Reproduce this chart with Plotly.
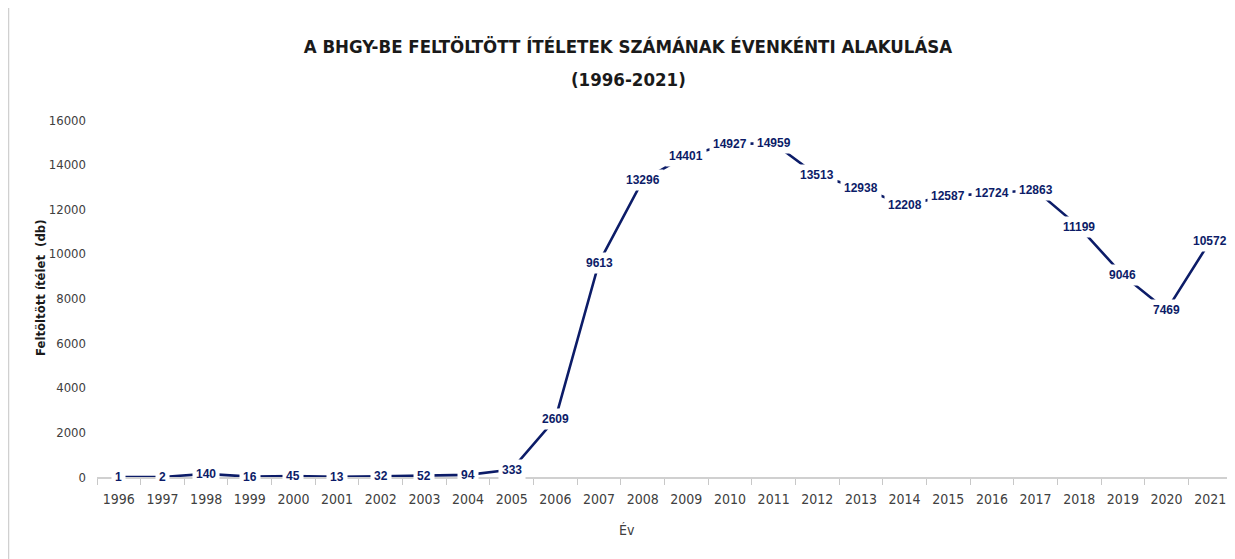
import plotly.graph_objects as go

years = [str(y) for y in range(1996, 2022)]
values = [1, 2, 140, 16, 45, 13, 32, 52, 94, 333, 2609, 9613, 13296, 14401,
          14927, 14959, 13513, 12938, 12208, 12587, 12724, 12863, 11199,
          9046, 7469, 10572]
y_ticks = [0, 2000, 4000, 6000, 8000, 10000, 12000, 14000, 16000]

title_line1 = "A BHGY-BE FELTÖLTÖTT ÍTÉLETEK SZÁMÁNAK ÉVENKÉNTI ALAKULÁSA"
title_line2 = "(1996-2021)"
x_title = "Év"
y_title = "Feltöltött ítélet \u00a0(db)"

NAVY = "#0c1c68"
FONT = "DejaVu Sans Condensed, DejaVu Sans, sans-serif"
LABEL_FONT = "Liberation Sans, Arial, sans-serif"

W, H = 1227, 551
L, R, T, B = 89, 3, 112, 82
PW, PH = W - L - R, H - T - B

fig = go.Figure()
fig.add_trace(go.Scatter(
    x=years, y=values, mode="lines",
    line=dict(color=NAVY, width=2.6),
    hoverinfo="x+y", showlegend=False,
))

for i, v in enumerate(values):
    fig.add_annotation(
        x=i, y=v, xref="x", yref="y", text=f"<b>{v}</b>", showarrow=False,
        font=dict(family=LABEL_FONT, size=12, color=NAVY),
        bgcolor="white", borderpad=3,
    )

# second title line
fig.add_annotation(
    x=(620 - L) / PW, y=1 + (T - 72) / PH, xref="paper", yref="paper",
    text=f"<b>{title_line2}</b>", showarrow=False, yanchor="middle",
    font=dict(family=FONT, size=18.5, color="#1a1a1a"),
)

# x axis title
fig.add_annotation(
    x=(619 - L) / PW, y=(H - B - 522) / PH, xref="paper", yref="paper",
    text=x_title, showarrow=False, yanchor="middle",
    font=dict(family=FONT, size=14, color="#404040"),
)

# y axis title
fig.add_annotation(
    x=(32 - L) / PW, y=(H - B - 280) / PH, xref="paper", yref="paper",
    text=f"<b>{y_title}</b>", showarrow=False, textangle=-90,
    xanchor="center", yanchor="middle",
    font=dict(family=FONT, size=13, color="#1a1a1a"),
)

fig.add_shape(type="line", xref="paper", yref="paper",
              x0=(0.5 - L) / PW, x1=(0.5 - L) / PW, y0=-0.5, y1=1.5,
              line=dict(color="#d0d0d0", width=1.5))

fig.update_layout(
    width=W, height=H,
    margin=dict(l=L, r=R, t=T, b=B),
    paper_bgcolor="white", plot_bgcolor="white",
    title=dict(text=f"<b>{title_line1}</b>", x=620 / W, xanchor="center",
               y=1 - 39 / H, yanchor="middle",
               font=dict(family=FONT, size=18.5, color="#1a1a1a")),
    xaxis=dict(
        type="category", range=[-0.5, 25.5],
        showline=True, linecolor="#d0d0d0", linewidth=1.5,
        ticks="outside", tickson="boundaries", ticklen=6, tickcolor="#c8c8c8",
        ticklabelstandoff=8,
        tickfont=dict(family=FONT, size=14, color="#404040"),
        showgrid=False, zeroline=False,
    ),
    yaxis=dict(
        range=[0, 16000], tickvals=y_ticks, tickformat="d",
        showline=False, showgrid=False, zeroline=False,
        ticks="", ticklabelstandoff=10,
        tickfont=dict(family=FONT, size=13, color="#404040"),
    ),
)

fig.write_html("out.html")
